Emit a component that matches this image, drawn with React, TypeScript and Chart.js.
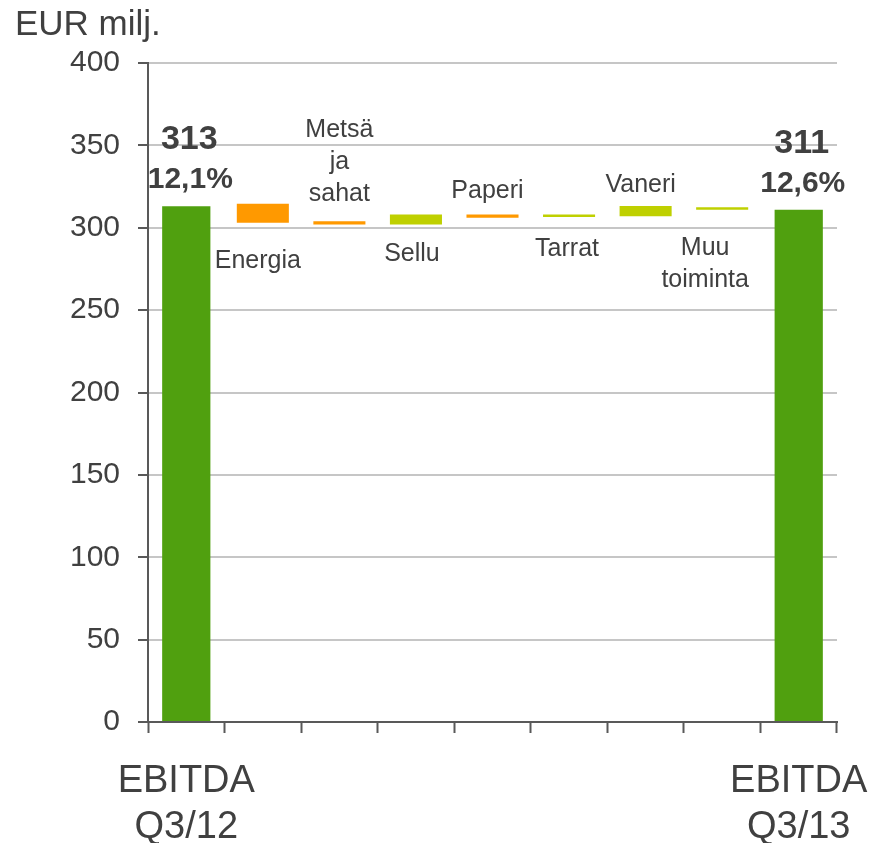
import React, { useEffect, useRef } from 'react';
import { Chart, registerables } from 'chart.js';

Chart.register(...registerables);

// ---- data ----
const categories: string[][] = [
  ['EBITDA', 'Q3/12'],
  ['Energia'],
  ['Metsä', 'ja', 'sahat'],
  ['Sellu'],
  ['Paperi'],
  ['Tarrat'],
  ['Vaneri'],
  ['Muu', 'toiminta'],
  ['EBITDA', 'Q3/13'],
];
const totals: (number | null)[] = [313, null, null, null, null, null, null, null, 311];
const changeLow: (number | null)[] = [null, 303, 302, 302, 306, 306.5, 307, 311, null];
const changeHigh: (number | null)[] = [null, 314.5, 304, 308, 308, 308, 313.2, 312.4, null];
const changeKind: string[] = ['', 'neg', 'neg', 'pos', 'neg', 'pos', 'pos', 'pos', ''];
const totalLabels: string[] = ['313', '', '', '', '', '', '', '', '311'];
const marginLabels: string[] = ['12,1%', '', '', '', '', '', '', '', '12,6%'];
const labelSide: string[] = ['', 'below', 'above', 'below', 'above', 'below', 'above', 'below', ''];
const yTicks: number[] = [0, 50, 100, 150, 200, 250, 300, 350, 400];

// ---- style ----
const GREEN = '#50A00F';
const ORANGE = '#FF9900';
const LIME = '#BFD000';
const TEXT = '#404040';
const AXIS = '#595959';
const GRID = '#C6C6C6';
const FONT = '"Liberation Sans", Arial, Helvetica, sans-serif';
// per-label fine offsets [dx, dy] (dy: gap from bar edge to nearest baseline)
const labelOffsets: [number, number][] = [
  [0, 0], [-5, 45], [0, 20], [-4, 37], [-5, 17], [-2, 39], [-5, 14], [-17, 45], [0, 0],
];
// horizontal nudge of total bars relative to category centre
const totalShift: number[] = [0, 0, 0, 0, 0, 0, 0, 0, -4];

const annotate = {
  id: 'annotate',
  afterDraw(chart: any) {
    const ctx = chart.ctx;
    ctx.save();
    ctx.fillStyle = TEXT;
    ctx.textBaseline = 'alphabetic';
    ctx.textAlign = 'left';
    ctx.font = `35px ${FONT}`;
    ctx.fillText('EUR milj.', 15, 35);

    const totMeta = chart.getDatasetMeta(0);
    const chMeta = chart.getDatasetMeta(1);
    ctx.textAlign = 'center';
    for (let i = 0; i < categories.length; i++) {
      if (totals[i] != null) {
        const el = totMeta.data[i];
        const top = Math.min(el.y, el.base);
        ctx.font = `bold 34px ${FONT}`;
        ctx.fillText(totalLabels[i], el.x + 3, top - 57);
        ctx.font = `bold 30px ${FONT}`;
        ctx.fillText(marginLabels[i], el.x + 4, top - 18);
      } else {
        const el = chMeta.data[i];
        const top = Math.min(el.y, el.base);
        const bottom = Math.max(el.y, el.base);
        const lines = categories[i];
        const [dx, dy] = labelOffsets[i];
        const lh = 32;
        ctx.font = `25px ${FONT}`;
        if (labelSide[i] === 'above') {
          const lastBase = top - dy;
          lines.forEach((t, k) => {
            ctx.fillText(t, el.x + dx, lastBase - (lines.length - 1 - k) * lh);
          });
        } else {
          const firstBase = bottom + dy;
          lines.forEach((t, k) => {
            ctx.fillText(t, el.x + dx, firstBase + k * lh);
          });
        }
      }
    }
    ctx.restore();
  },
};

export default function App() {
  const ref = useRef<HTMLCanvasElement>(null);
  useEffect(() => {
    document.body.style.margin = '0';
    const canvas = ref.current!;
    const changeData = changeLow.map((lo, i) =>
      lo == null || changeHigh[i] == null ? null : [lo, changeHigh[i] as number]
    );
    const chart = new Chart(canvas, {
      type: 'bar',
      data: {
        labels: categories.map((c) => c.join(' ')),
        datasets: [
          {
            data: totals as any,
            backgroundColor: GREEN,
            barPercentage: 0.63,
            categoryPercentage: 1,
            grouped: false,
          } as any,
          {
            data: changeData as any,
            backgroundColor: changeKind.map((k) => (k === 'neg' ? ORANGE : LIME)),
            barPercentage: 0.68,
            categoryPercentage: 1,
            grouped: false,
          } as any,
        ],
      },
      options: {
        responsive: false,
        animation: false,
        devicePixelRatio: 1,
        layout: { padding: { top: 63, right: 46, left: 0, bottom: 0 } },
        plugins: { legend: { display: false }, tooltip: { enabled: false } },
        scales: {
          x: {
            offset: true,
            grid: {
              display: true,
              drawOnChartArea: false,
              drawTicks: true,
              tickLength: 11,
              tickWidth: 2,
              tickColor: AXIS,
              offset: true,
            },
            border: { display: true, color: AXIS, width: 2 },
            ticks: {
              autoSkip: false,
              maxRotation: 0,
              minRotation: 0,
              padding: 25,
              color: TEXT,
              font: { family: FONT, size: 38, lineHeight: 1.22 },
              callback: (_v: any, idx: number) =>
                idx === 0 || idx === categories.length - 1 ? categories[idx] : '',
            },
            afterFit: (s: any) => {
              s.height = 121;
              s.paddingLeft = 0;
              s.paddingRight = 0;
            },
          },
          y: {
            min: 0,
            max: 400,
            afterBuildTicks: (s: any) => {
              s.ticks = yTicks.map((v) => ({ value: v }));
            },
            grid: {
              color: GRID,
              lineWidth: 2,
              drawTicks: true,
              tickLength: 10,
              tickColor: AXIS,
              tickWidth: 2,
            },
            border: { display: true, color: AXIS, width: 2 },
            ticks: {
              padding: 18,
              color: TEXT,
              font: { family: FONT, size: 30 },
            },
            afterFit: (s: any) => {
              s.width = 148;
              s.paddingTop = 0;
              s.paddingBottom = 0;
            },
          },
        },
      },
      plugins: [annotate],
    } as any);
    return () => chart.destroy();
  }, []);
  return <canvas ref={ref} width={883} height={843} style={{ display: 'block', width: 883, height: 843 }} />;
}
